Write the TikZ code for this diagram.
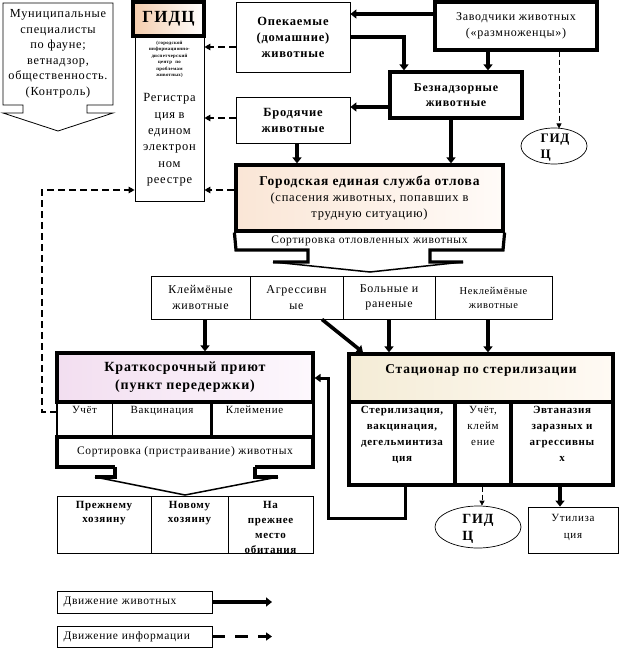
\documentclass[tikz,border=0pt]{standalone}
\usepackage{fontspec}
\setmainfont{Liberation Serif}[LetterSpace=6]
\usetikzlibrary{arrows.meta,shapes.geometric}
\newcommand\fsz[2]{\fontsize{#1}{#2}\selectfont}
\definecolor{gidcL}{RGB}{244,204,172}
\definecolor{gorL}{RGB}{250,230,214}
\definecolor{gorR}{RGB}{255,251,248}
\definecolor{krL}{RGB}{242,222,240}
\definecolor{krR}{RGB}{253,248,253}
\definecolor{stL}{RGB}{244,236,214}
\definecolor{stR}{RGB}{255,250,244}
\begin{document}
\begin{tikzpicture}[x=1pt,y=-1pt,
  thin/.style={draw, line width=0.8pt, inner sep=0pt, align=center},
  thk/.style={draw, line width=3.2pt, inner sep=0pt, align=center},
  txt/.style={inner sep=0pt, align=center},
  lab/.style={anchor=north, inner sep=0pt, align=center},
  flow/.style={line width=3.6pt, -{Triangle[length=6pt,width=9pt]}},
  info/.style={line width=1.3pt, dash pattern=on 7pt off 4pt, -{Triangle[length=6pt,width=6.5pt]}},
  infothin/.style={line width=0.7pt, dash pattern=on 5pt off 3pt, -{Triangle[length=5pt,width=5pt]}},
  callout/.style={line width=3.2pt},
  calldiag/.style={line width=1.5pt},
]
\useasboundingbox (0,0) rectangle (628,650);

% municipal callout
\draw[line width=0.8pt] (3,3) -- (113,3) -- (113,105) -- (87,105) -- (87,113) -- (113,113) -- (58,131) -- (3,113) -- (23,113) -- (23,105) -- (3,105) -- cycle;
\node[txt, font=\fsz{12.3}{15.5}] (mun) at (58,54) {Муниципальные\\специалисты\\по фауне;\\ветнадзор,\\общественность.\\(Контроль)};

% registry box and GIDC
\node[thin, minimum width=69, minimum height=165] (reg) at (169.5,118.5) {};
\node[lab, text width=68] (regt) at (169.5,41) {{\bfseries\fsz{4.8}{6.4}(городской\\информационно-\\диспетчерский\\центр по\\проблемам\\животных)\par}\vspace{9pt}{\fsz{12.5}{16.3}Регистра\\ция в\\едином\\электрон\\ном\\реестре\par}};
\node[thk, minimum width=71, minimum height=34, left color=gidcL, right color=white, font=\bfseries\fsz{17}{20}] (gidc) at (168.5,19) {ГИДЦ};

% top boxes
\node[thin, minimum width=114, minimum height=70, font=\bfseries\fsz{12.5}{16}] (opek) at (293,37) {Опекаемые\\(домашние)\\животные};
\node[thk, minimum width=162, minimum height=48, font=\fsz{12}{15.5}] (zav) at (516,26) {Заводчики животных\\(«размноженцы»)};
\node[thk, minimum width=132, minimum height=46, font=\bfseries\fsz{12}{15.5}] (bez) at (456,95) {Безнадзорные\\животные};
\node[thin, minimum width=114, minimum height=46, font=\bfseries\fsz{12.5}{16}] (brod) at (293,120) {Бродячие\\животные};
\node[draw, ellipse, line width=0.7pt, minimum width=66, minimum height=36, inner sep=0pt,
  label={[font=\bfseries\fsz{13}{16}, align=left, inner sep=0pt, xshift=1pt, yshift=-2pt]center:ГИД\\Ц}] (gid1) at (554,146) {};

% city service
\node[thk, minimum width=267, minimum height=66, left color=gorL, right color=gorR, font=\fsz{12.5}{16}] (gor) at (369.5,198) {\bfseries\fsz{13.5}{17}Городская единая служба отлова\\(спасения животных, попавших в\\трудную ситуацию)};
\draw[callout] (gor.south west) -- (236,250) -- (308,250) -- (308,262) -- (273,262);
\draw[callout] (gor.south east) -- (503,250) -- (430,250) -- (430,262) -- (463,262);
\draw[calldiag] (273,262) -- (370,272) -- (463,262);
\node[txt, font=\fsz{11.5}{14}] (sort1) at (369.5,241) {Сортировка отловленных животных};

% categories
\node[thin, minimum width=99, minimum height=43, font=\fsz{12}{15.5}] (k1) at (200.5,297.5) {Клеймёные\\животные};
\node[thin, minimum width=93, minimum height=43, font=\fsz{12}{15.5}] (k2) at (296.5,297.5) {Агрессивн\\ые};
\node[thin, minimum width=92, minimum height=43, font=\fsz{12}{15.5}] (k3) at (389,297.5) {Больные и\\раненые};
\node[thin, minimum width=117, minimum height=43, font=\fsz{10.5}{14}] (k4) at (493.5,297.5) {Неклеймёные\\животные};

% short-term shelter
\node[thk, minimum width=256, minimum height=49, left color=krL, right color=krR, font=\bfseries\fsz{14}{18}] (kr) at (185,377.5) {Краткосрочный приют\\(пункт передержки)};
\node[thin, minimum width=55, minimum height=35, label={[lab, font=\fsz{11}{14}, yshift=-4pt]north:Учёт}] (uch) at (84.5,419.5) {};
\node[thin, minimum width=100, minimum height=35, label={[lab, font=\fsz{11}{14}, yshift=-4pt]north:Вакцинация}] (vak) at (162,419.5) {};
\node[thin, minimum width=101, minimum height=35, label={[lab, font=\fsz{11}{14}, yshift=-4pt, xshift=-8pt]north:Клеймение}] (kle) at (262.5,419.5) {};
\draw[line width=2.5pt] (kle.north west) -- (kle.south west);
\draw[line width=2.5pt] (kle.north east) -- (kle.south east);
\draw[line width=1.6pt] (uch.north west) -- (uch.south west);
\draw[callout] (115,467) -- (57,467) -- (57,437) -- (313,437) -- (313,467) -- (255,467);
\draw[callout] (115,467) -- (115,477) -- (95,477);
\draw[callout] (255,467) -- (255,477) -- (278,477);
\draw[calldiag] (95,477) -- (185,495) -- (278,477);
\node[txt, font=\fsz{11.5}{14}] (sort2) at (185,452) {Сортировка (пристраивание) животных};

% outcomes
\node[thin, minimum width=94, minimum height=57, label={[lab, font=\bfseries\fsz{11}{14.5}, yshift=-5pt]north:Прежнему\\хозяину}] (o1) at (104,524.5) {};
\node[thin, minimum width=77, minimum height=57, label={[lab, font=\bfseries\fsz{11}{14.5}, yshift=-5pt]north:Новому\\хозяину}] (o2) at (189.5,524.5) {};
\node[thin, minimum width=85, minimum height=57, label={[lab, font=\bfseries\fsz{11}{15}, yshift=-5pt]north:На\\прежнее\\место\\обитания}] (o3) at (270.5,524.5) {};

% sterilisation
\node[thk, minimum width=264, minimum height=48, left color=stL, right color=stR] (st) at (481,378) {};
\node[txt, font=\bfseries\fsz{13.5}{17}] (stt) at (481,370) {Стационар по стерилизации};
\node[thk, minimum width=106, minimum height=83, label={[lab, font=\bfseries\fsz{11}{16}, yshift=-6pt]north:Стерилизация,\\вакцинация,\\дегельминтиза\\ция}] (s1) at (402,443.5) {};
\node[thk, minimum width=56, minimum height=83, label={[lab, font=\fsz{11}{16}, yshift=-6pt]north:Учёт,\\клейм\\ение}] (s2) at (483,443.5) {};
\node[thk, minimum width=102, minimum height=83, label={[lab, font=\bfseries\fsz{11}{16}, yshift=-6pt]north:Эвтаназия\\заразных и\\агрессивны\\х}] (s3) at (562,443.5) {};
\node[draw, ellipse, line width=0.7pt, minimum width=86, minimum height=42, inner sep=0pt,
  label={[font=\bfseries\fsz{14}{17}, align=left, inner sep=0pt, yshift=-2pt]center:ГИД\\Ц}] (gid2) at (478,527) {};
\node[thin, minimum width=90, minimum height=46, label={[lab, font=\fsz{11}{17}, yshift=-7pt]north:Утилиза\\ция}] (util) at (573,530) {};

% legend
\node[thin, minimum width=155, minimum height=22, text width=142, align=left, inner xsep=6.5pt, font=\fsz{11.5}{14}] (leg1) at (134.5,602) {Движение животных};
\node[thin, minimum width=155, minimum height=21, text width=142, align=left, inner xsep=6.5pt, font=\fsz{11.5}{14}] (leg2) at (134.5,636.5) {Движение информации};
\coordinate (la) at (272,602);
\coordinate (lb) at (272,636.5);
\draw[flow] (leg1.east) -- (la);
\draw[line width=3pt, dash pattern=on 13pt off 10pt, -{Triangle[length=6pt,width=8pt]}] (leg2.east) -- (lb);

% animal flows
\draw[flow] (zav.west |- 0,14) -- (opek.east |- 0,14);
\draw[flow] (opek.east |- 0,37) -| (404,0 |- bez.north);
\draw[flow] (488,0 |- zav.south) -- (488,0 |- bez.north);
\draw[flow] (bez.west |- 0,107) -- (brod.east |- 0,107);
\draw[flow] (297,0 |- brod.south) -- (297,0 |- gor.north);
\draw[flow] (451,0 |- bez.south) -- (451,0 |- gor.north);
\draw[flow] (205,0 |- k1.south) -- (205,0 |- kr.north);
\draw[flow] (322,0 |- k2.south) -- (363,0 |- st.north);
\draw[flow] (389,0 |- k3.south) -- (389,0 |- st.north);
\draw[flow] (488,0 |- k4.south) -- (488,0 |- st.north);
\draw[line width=3pt, -{Triangle[length=6pt,width=8pt]}] (405,0 |- s1.south) -- (405,518) -| (328,378) -- (kr.east |- 0,378);
\draw[flow] (560,0 |- s3.south) -- (560,0 |- util.north);

% information flows
\draw[info] (opek.west |- 0,47) -- (reg.east |- 0,47);
\draw[info] (brod.west |- 0,118) -- (reg.east |- 0,118);
\draw[info] (gor.west |- 0,190) -- (reg.east |- 0,190);
\draw[info] (uch.west |- 0,412) -- (42,412) -- (42,190) -- (reg.west |- 0,190);
\draw[infothin] (559,0 |- zav.south) -- (559,128.5);
\draw[infothin] (482,0 |- s2.south) -- (482,0 |- gid2.north);
\end{tikzpicture}
\end{document}
